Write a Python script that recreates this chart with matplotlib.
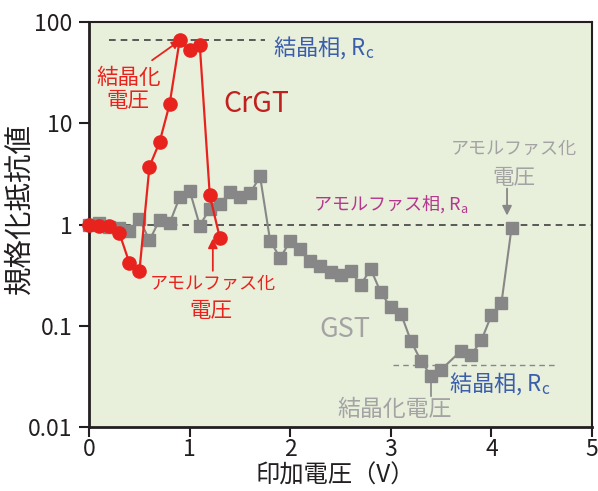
import matplotlib
matplotlib.use("Agg")
import matplotlib.pyplot as plt
from matplotlib.ticker import FixedLocator, FixedFormatter, NullLocator

plt.rcParams['font.family'] = ['Noto Sans CJK JP', 'DejaVu Sans']

# CrGT: normalized resistance vs applied voltage
crgt_v = [0.0, 0.1, 0.2, 0.3, 0.4, 0.5, 0.6, 0.7, 0.8, 0.9, 1.0, 1.1, 1.2, 1.3]
crgt_r = [1.0, 0.98, 0.98, 0.83, 0.42, 0.345, 3.75, 6.5, 15.4, 66, 53, 60, 1.94, 0.74]

# GST: normalized resistance vs applied voltage
gst_v = [0.0, 0.1, 0.2, 0.3, 0.4, 0.5, 0.6, 0.7, 0.8, 0.9, 1.0, 1.1, 1.2, 1.3,
         1.4, 1.5, 1.6, 1.7, 1.8, 1.9, 2.0, 2.1, 2.2, 2.3, 2.4, 2.5, 2.6, 2.7,
         2.8, 2.9, 3.0, 3.1, 3.2, 3.3, 3.4, 3.5, 3.7, 3.8, 3.9, 4.0, 4.1, 4.2]
gst_r = [1.0, 1.03, 0.94, 0.92, 0.87, 1.14, 0.70, 1.11, 1.03, 1.86, 2.17, 0.98,
         1.43, 1.60, 2.09, 1.86, 2.04, 2.99, 0.69, 0.47, 0.69, 0.575, 0.44, 0.39,
         0.337, 0.32, 0.35, 0.255, 0.364, 0.214, 0.152, 0.132, 0.071, 0.045,
         0.032, 0.037, 0.057, 0.052, 0.072, 0.128, 0.17, 0.93]

# reference resistance levels
r_amorphous = 1.0
r_crgt_crystal = 66
r_gst_crystal = 0.041

x_ticks = [0, 1, 2, 3, 4, 5]
y_ticks = [0.01, 0.1, 1, 10, 100]
y_tick_labels = ['0.01', '0.1', '1', '10', '100']

RED = '#e8231e'
DARKRED = '#c0201e'
GRAY = '#878787'
LIGHTGRAY = '#a3a3a3'
BLUE = '#3b5eab'
MAGENTA = '#b5388e'
DARK = '#231f20'

fig = plt.figure(figsize=(5.98, 4.91), dpi=100)
ax = fig.add_axes([0.149, 0.130, 0.841, 0.825])
ax.set_facecolor('#e8f0dc')

ax.set_yscale('log')
ax.set_xlim(0, 5)
ax.set_ylim(0.01, 100)

# reference levels
ax.axhline(r_amorphous, color='#404040', lw=1.2, ls=(0, (4, 3)), zorder=1)
ax.plot([0.2, 1.75], [r_crgt_crystal, r_crgt_crystal], color='#404040', lw=1.2,
        ls=(0, (4, 3)), zorder=1)
ax.plot([3.02, 4.65], [r_gst_crystal, r_gst_crystal], color='#888888', lw=1.0,
        ls=(0, (4, 3)), zorder=1)

# data series
ax.plot(gst_v, gst_r, color=GRAY, lw=1.5, marker='s', ms=9, mec=GRAY, mfc=GRAY,
        zorder=2, clip_on=False)
ax.plot(crgt_v, crgt_r, color=RED, lw=1.6, marker='o', ms=9.5, mec=RED, mfc=RED,
        zorder=3, clip_on=False)

# annotations: CrGT
ax.text(1.83, 56.5, '結晶相, R$_\\mathregular{c}$', color=BLUE, fontsize=16,
        ha='left', va='center')
ax.text(1.66, 15.4, 'CrGT', color=DARKRED, fontsize=20.5, ha='center',
        va='center')
ax.text(0.39, 21.7, '結晶化\n電圧', color=RED, fontsize=15.5, ha='center',
        va='center', linespacing=1.05)
ax.annotate('', xy=(0.905, 66), xytext=(0.626, 42),
            arrowprops=dict(arrowstyle='-|>', color=RED, lw=1.3,
                            mutation_scale=12, shrinkA=0, shrinkB=0))
ax.text(1.23, 0.26, 'アモルファス化', color=RED, fontsize=13, ha='center',
        va='center')
ax.text(1.21, 0.141, '電圧', color=RED, fontsize=15.5, ha='center',
        va='center')
ax.annotate('', xy=(1.23, 0.73), xytext=(1.23, 0.35),
            arrowprops=dict(arrowstyle='-|>', color=RED, lw=1.3,
                            mutation_scale=14, shrinkA=0, shrinkB=0))

# annotations: GST
ax.text(2.23, 1.61, 'アモルファス相, R$_\\mathregular{a}$', color=MAGENTA,
        fontsize=13, ha='left', va='center')
ax.text(2.545, 0.093, 'GST', color=LIGHTGRAY, fontsize=19.5, ha='center',
        va='center')
ax.text(4.225, 5.65, 'アモルファス化', color=LIGHTGRAY, fontsize=13,
        ha='center', va='center')
ax.text(4.225, 2.92, '電圧', color=LIGHTGRAY, fontsize=15.5, ha='center',
        va='center')
ax.annotate('', xy=(4.155, 1.23), xytext=(4.155, 2.27),
            arrowprops=dict(arrowstyle='-|>', color=GRAY, lw=1.3,
                            mutation_scale=14, shrinkA=0, shrinkB=0))
ax.text(3.58, 0.0267, '結晶相, R$_\\mathregular{c}$', color=BLUE, fontsize=16,
        ha='left', va='center')
ax.text(3.04, 0.0151, '結晶化電圧', color=LIGHTGRAY, fontsize=16.5, ha='center',
        va='center')
ax.plot([3.40, 3.40], [0.0203, 0.0343], color=GRAY, lw=1.2, zorder=2)

# axes styling
for side in ['top', 'right']:
    ax.spines[side].set_color(DARK)
    ax.spines[side].set_linewidth(1.5)
for side in ['left', 'bottom']:
    ax.spines[side].set_color(DARK)
    ax.spines[side].set_linewidth(2.0)

ax.xaxis.set_major_locator(FixedLocator(x_ticks))
ax.yaxis.set_major_locator(FixedLocator(y_ticks))
ax.yaxis.set_major_formatter(FixedFormatter(y_tick_labels))
ax.yaxis.set_minor_locator(NullLocator())
ax.tick_params(axis='both', which='major', direction='out', length=7, width=1.5,
               color=DARK, labelsize=16.5, labelcolor=DARK)
ax.tick_params(axis='y', pad=5)
ax.tick_params(axis='x', pad=1)

ax.set_xlabel('印加電圧（V）', fontsize=17.5, color=DARK)
ax.set_ylabel('規格化抵抗値', fontsize=20.5, color=DARK)
ax.xaxis.set_label_coords(0.49, -0.088)
ax.yaxis.set_label_coords(-0.108, 0.54)

fig.savefig('out.png', dpi=100)
